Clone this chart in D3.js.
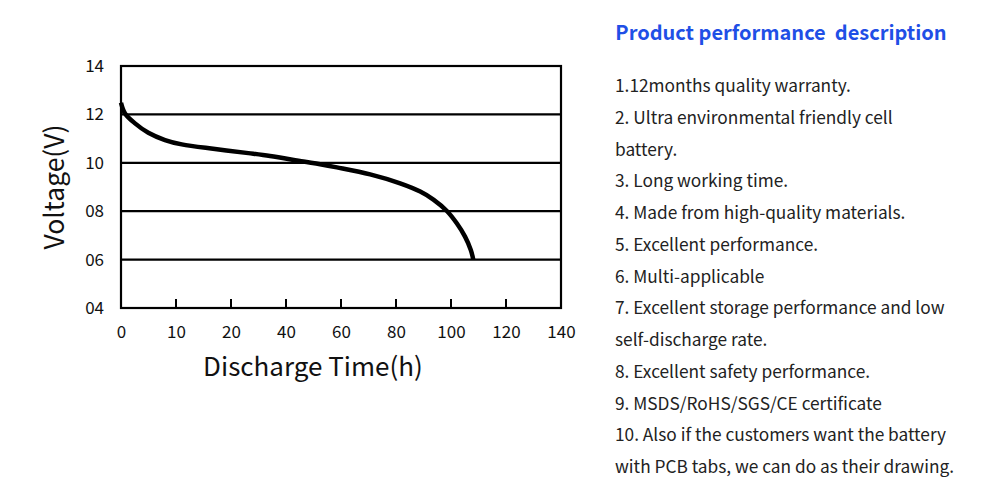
<!doctype html>
<html lang="en">
  <head>
    <meta charset="utf-8">
    <title>discharge curve</title>
    <script src="https://cdn.jsdelivr.net/npm/d3@7"></script>
    <style>
      body {
        margin: 0;
        background: #fff;
        font-family: 'Noto Sans CJK SC', 'Noto Sans', sans-serif;
      }
    </style>
  </head>
  <body>
    <div id="root"></div>
  </body>
  <script>

    //data:
    const xTicks = [0, 10, 20, 40, 60, 80, 100, 120, 140];
    const yTicks = [4, 6, 8, 10, 12, 14];
    const hours = [0, 0.73, 2.55, 4.97, 8.0, 11.05, 17.1, 26.3, 34.2, 46.3, 52.4, 58.5, 70.6, 81.5, 88.8, 93.6, 98.5, 102.1, 105.1, 107.2, 108.1];
    const volts = [12.48, 12.04, 11.63, 11.24, 10.94, 10.76, 10.57, 10.40, 10.28, 10.05, 9.94, 9.81, 9.52, 9.15, 8.81, 8.48, 8.01, 7.5, 6.95, 6.4, 6.0];
    const notes = [
      '1.12months quality warranty.',
      '2. Ultra environmental friendly cell',
      'battery.',
      '3. Long working time.',
      '4. Made from high-quality materials.',
      '5. Excellent performance.',
      '6. Multi-applicable',
      '7. Excellent storage performance and low',
      'self-discharge rate.',
      '8. Excellent safety performance.',
      '9. MSDS/RoHS/SGS/CE certificate',
      '10. Also if the customers want the battery',
      'with PCB tabs, we can do as their drawing.'
    ];

    const width = 1000;
    const height = 497;
    const plotLeft = 121, plotRight = 561, plotTop = 66, plotBottom = 308;

    //scales (x ticks are evenly spaced though the values are not):
    const step = (plotRight - plotLeft) / (xTicks.length - 1);
    const xScale = d3.scaleLinear()
      .domain(xTicks)
      .range(xTicks.map((d, i) => plotLeft + i * step));

    const yScale = d3.scaleLinear()
      .domain([4, 14])
      .range([plotBottom, plotTop]);

    const svg = d3.select('#root')
      .append('svg')
      .attr('width', width)
      .attr('height', height);

    //grid lines:
    svg.append('g')
      .selectAll('line')
      .data(yTicks.filter(d => d > 4 && d < 14))
      .enter()
      .append('line')
      .attr('x1', plotLeft)
      .attr('x2', plotRight)
      .attr('y1', d => yScale(d))
      .attr('y2', d => yScale(d))
      .attr('stroke', '#000')
      .attr('stroke-width', 2.2);

    //inner ticks on the bottom:
    svg.append('g')
      .selectAll('line')
      .data(xTicks.slice(1, -1))
      .enter()
      .append('line')
      .attr('x1', d => xScale(d))
      .attr('x2', d => xScale(d))
      .attr('y1', plotBottom)
      .attr('y2', plotBottom - 9)
      .attr('stroke', '#000')
      .attr('stroke-width', 2);

    //frame:
    svg.append('rect')
      .attr('x', plotLeft)
      .attr('y', plotTop)
      .attr('width', plotRight - plotLeft)
      .attr('height', plotBottom - plotTop)
      .attr('fill', 'none')
      .attr('stroke', '#000')
      .attr('stroke-width', 2.2);

    //axes (labels only):
    const xAxis = d3.axisBottom(xScale)
      .tickValues(xTicks)
      .tickSize(0)
      .tickPadding(18);

    const yAxis = d3.axisLeft(yScale)
      .tickValues(yTicks)
      .tickFormat(d3.format('02d'))
      .tickSize(0)
      .tickPadding(17);

    svg.append('g')
      .attr('transform', `translate(0, ${plotBottom})`)
      .call(xAxis)
      .call(g => g.select('.domain').remove())
      .selectAll('text')
      .attr('font-family', "'Noto Sans CJK SC', sans-serif")
      .attr('font-size', 17)
      .attr('fill', '#111');

    svg.append('g')
      .attr('transform', `translate(${plotLeft}, 0)`)
      .call(yAxis)
      .call(g => g.select('.domain').remove())
      .selectAll('text')
      .attr('font-family', "'Noto Sans CJK SC', sans-serif")
      .attr('font-size', 17)
      .attr('fill', '#111');

    //curve:
    const line = d3.line()
      .x((d, i) => xScale(hours[i]))
      .y(d => yScale(d))
      .curve(d3.curveCatmullRom.alpha(0.5));

    svg.append('path')
      .datum(volts)
      .attr('d', line)
      .attr('fill', 'none')
      .attr('stroke', '#000')
      .attr('stroke-width', 4.5);

    //axis titles:
    svg.append('text')
      .attr('transform', 'translate(64, 187) rotate(-90)')
      .attr('text-anchor', 'middle')
      .attr('font-size', 26.5)
      .attr('fill', '#111')
      .text('Voltage(V)');

    svg.append('text')
      .attr('x', 313)
      .attr('y', 376)
      .attr('text-anchor', 'middle')
      .attr('font-size', 26)
      .attr('fill', '#111')
      .text('Discharge Time(h)');

    //description:
    svg.append('text')
      .attr('x', 781)
      .attr('y', 40)
      .attr('text-anchor', 'middle')
      .attr('font-size', 20)
      .attr('font-weight', 'bold')
      .attr('fill', '#1f4fe6')
      .attr('xml:space', 'preserve')
      .text('Product performance  description');

    svg.append('g')
      .selectAll('text')
      .data(notes)
      .enter()
      .append('text')
      .attr('x', 615)
      .attr('y', (d, i) => 92 + i * 31.75)
      .attr('font-size', 17.3)
      .attr('fill', '#222')
      .text(d => d);

  </script>
</html>
